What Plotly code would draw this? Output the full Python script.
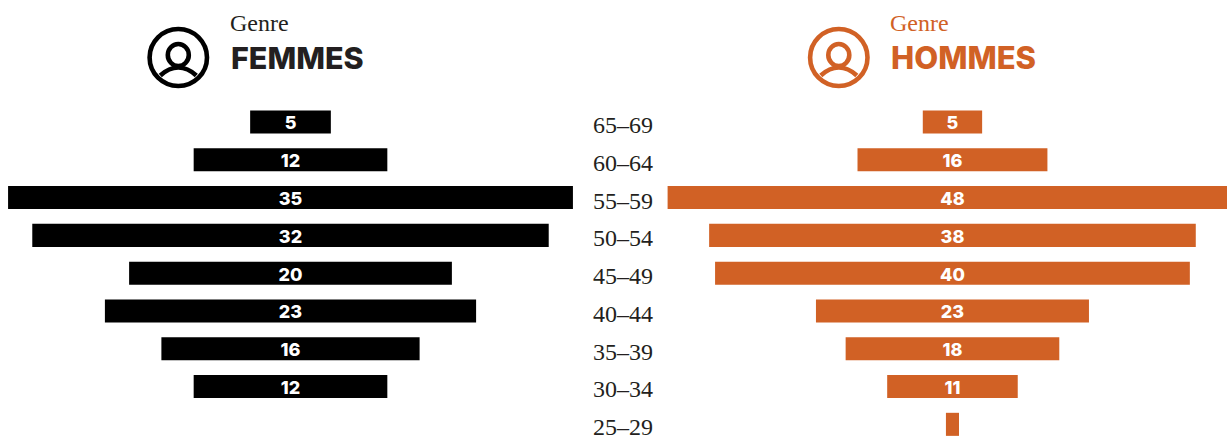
import plotly.graph_objects as go

W, H = 1227, 437
ages = ["65–69", "60–64", "55–59", "50–54", "45–49", "40–44", "35–39", "30–34", "25–29"]
femmes = [5, 12, 35, 32, 20, 23, 16, 12, None]
femmes_labels = ["5", "12", "35", "32", "20", "23", "16", "12", ""]
hommes_lengths = [5, 16, 48, 41, 40, 23, 18, 11, 1.1]
hommes_labels = ["5", "16", "48", "38", "40", "23", "18", "11", ""]

BLACK = "#000000"
ORANGE = "#d16125"
INK = "#231f20"
SERIF = "Liberation Serif, serif"
SANS = "Inter, Open Sans, sans-serif"


def px(x):
    return x / W


def py(y):
    return 1 - y / H


def centred(values):
    return [0 if v is None else -v / 2 for v in values]


label_font = dict(family=SANS, size=18, color="white", weight=800)
fig = go.Figure()
fig.add_bar(y=ages, x=femmes, base=centred(femmes), orientation="h", marker=dict(color=BLACK, line_width=0),
            xaxis="x", yaxis="y", hoverinfo="skip")
fig.add_bar(y=ages, x=hommes_lengths, base=centred(hommes_lengths), orientation="h",
            marker=dict(color=ORANGE, line_width=0), xaxis="x2", yaxis="y", hoverinfo="skip")
fig.add_scatter(y=ages, x=[0] * len(ages), text=ages, mode="text", xaxis="x3", yaxis="y2", cliponaxis=False,
                textfont=dict(family=SERIF, size=24, color=INK), hoverinfo="skip")
fig.add_scatter(y=ages, x=[0] * len(ages), text=femmes_labels, mode="text", xaxis="x4", yaxis="y3",
                textfont=label_font, hoverinfo="skip")
fig.add_scatter(y=ages, x=[0] * len(ages), text=hommes_labels, mode="text", xaxis="x5", yaxis="y4",
                textfont=label_font, hoverinfo="skip")


def icon(cx, color):
    common = dict(xref="paper", yref="paper", line=dict(color=color, width=4.6), layer="above")
    return [
        dict(type="circle", x0=px(cx - 28.7), x1=px(cx + 28.7), y0=py(86), y1=py(29), **common),
        dict(type="path",
             path=(f"M {px(cx-18)},{py(75.5)} C {px(cx-12)},{py(70)} {px(cx-6)},{py(67.5)} {px(cx)},{py(67.5)} "
                   f"C {px(cx+6)},{py(67.5)} {px(cx+12)},{py(70)} {px(cx+18)},{py(75.5)}"), **common),
        dict(type="circle", x0=px(cx - 10.5), x1=px(cx + 10.5), y0=py(66), y1=py(44),
             fillcolor="white", **common),
    ]


def heading(x, word, size, color, genre_color):
    return [
        dict(x=px(x), y=py(23), xref="paper", yref="paper", xanchor="left", yanchor="middle", showarrow=False,
             text="Genre", font=dict(family=SERIF, size=24, color=genre_color)),
        dict(x=px(x + 1), y=py(57.5), xref="paper", yref="paper", xanchor="left", yanchor="middle", showarrow=False,
             text=word, font=dict(family=SANS, size=size, color=color, weight=800)),
    ]


hidden = dict(visible=False, fixedrange=True)
category = dict(type="category", categoryorder="array", categoryarray=ages)
left_x = dict(domain=[0, px(581)], range=[-18, 18])
right_x = dict(domain=[px(660), 1], range=[-24.64, 23.13])
label_y = dict(domain=[0, py(106.1)], range=[8.254, -0.5])
fig.update_layout(
    width=W, height=H, margin=dict(l=0, r=0, t=0, b=0),
    paper_bgcolor="white", plot_bgcolor="rgba(0,0,0,0)", showlegend=False, bargap=0.39,
    xaxis=dict(anchor="y", **left_x, **hidden),
    xaxis2=dict(anchor="y", **right_x, **hidden),
    xaxis3=dict(domain=[px(581), px(665)], range=[-1, 1], anchor="y2", **hidden),
    xaxis4=dict(anchor="y3", **left_x, **hidden),
    xaxis5=dict(anchor="y4", **right_x, **hidden),
    yaxis=dict(domain=[0, py(103.1)], range=[8.335, -0.5], anchor="x", **category, **hidden),
    yaxis2=dict(domain=[0, py(108)], range=[8.204, -0.5], anchor="x3", **category, **hidden),
    yaxis3=dict(anchor="x4", **label_y, **category, **hidden),
    yaxis4=dict(anchor="x5", **label_y, **category, **hidden),
    shapes=icon(178.3, BLACK) + icon(838.8, ORANGE),
    annotations=heading(228, "FEMMES", 30.5, INK, INK) + heading(888, "HOMMES", 31, ORANGE, ORANGE),
)
fig.write_html("out.html", config=dict(displayModeBar=False),
               post_script="document.body.style.margin='0';")
